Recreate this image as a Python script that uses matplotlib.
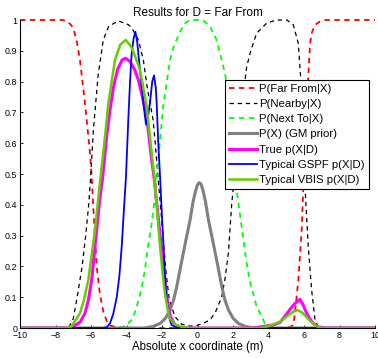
import matplotlib
matplotlib.use("Agg")
import matplotlib.pyplot as plt

plt.rcParams['font.family'] = ['Liberation Sans', 'DejaVu Sans']

# P(Far From|X)
far_x = [-10, -7.6, -7.3, -7.0, -6.8, -6.62, -6.34, -6.06, -5.96, -5.85, -5.68, -5.5, -5.31, -5.1, -4.9, -4.5, -4.0,
         5.0, 5.2, 5.4, 5.49, 5.68, 5.87, 5.96, 6.06, 6.24, 6.34, 6.45, 6.62, 6.9, 7.2, 10]
far_y = [1, 1, 0.995, 0.975, 0.93, 0.87, 0.73, 0.57, 0.49, 0.37, 0.2, 0.11, 0.055, 0.02, 0.008, 0.001, 0,
         0, 0.003, 0.01, 0.048, 0.156, 0.318, 0.454, 0.6, 0.816, 0.924, 0.96, 0.984, 0.995, 1, 1]

# P(Nearby|X)
near_x = [-10, -7.6, -7.25, -7.0, -6.78, -6.5, -6.3, -6.13, -6.02, -5.87, -5.6, -5.31, -5.0, -4.45, -3.9, -3.71,
          -3.33, -3.05, -2.83, -2.64, -2.5, -2.38, -2.24, -2.08, -1.93, -1.77, -1.59, -1.27, -0.89, -0.4, -0.05,
          0.3, 0.7, 1.0, 1.36, 1.55, 1.74, 1.93, 2.1, 2.4, 2.68, 2.77, 3.0, 3.33, 3.9, 4.46, 5.03, 5.4, 5.68, 5.81,
          5.95, 6.06, 6.24, 6.43, 6.62, 6.8, 7.0, 10]
near_y = [0, 0, 0.003, 0.03, 0.1, 0.2, 0.3, 0.4, 0.49, 0.64, 0.82, 0.935, 0.98, 0.997, 0.985, 0.975,
          0.935, 0.87, 0.78, 0.72, 0.675, 0.6, 0.5, 0.394, 0.286, 0.178, 0.091, 0.037, 0.012, 0.006, 0.008,
          0.015, 0.026, 0.05, 0.1, 0.16, 0.243, 0.405, 0.5, 0.66, 0.805, 0.848, 0.9, 0.957, 0.99, 1.0, 1.0, 0.984, 0.924, 0.816,
          0.6, 0.454, 0.264, 0.123, 0.026, 0.004, 0, 0]

# P(Next To|X)
next_x = [-10, -4.6, -4.2, -3.9, -3.65, -3.42, -3.14, -2.96, -2.77, -2.58, -2.39, -2.21, -1.93, -1.55, -1.36, -1.0,
          -0.7, -0.42, 0.3, 0.7, 1.08, 1.45, 1.64, 1.9, 2.2, 2.39, 2.77, 3.0, 3.33, 3.8, 4.2, 4.6, 10]
next_y = [0, 0, 0.004, 0.015, 0.03, 0.07, 0.13, 0.19, 0.27, 0.34, 0.43, 0.55, 0.72, 0.87, 0.91, 0.96,
          0.99, 1.0, 1.0, 0.98, 0.935, 0.85, 0.8, 0.64, 0.45, 0.37, 0.21, 0.14, 0.07, 0.015, 0.002, 0, 0]

# P(X) (GM prior)
prior_x = [-10, -3.0, -2.5, -2.1, -1.8, -1.55, -1.35, -1.17, -1.0, -0.8, -0.6, -0.42, -0.25, -0.1, 0.0, 0.1,
           0.2, 0.3, 0.45, 0.62, 0.8, 1.0, 1.2, 1.37, 1.55, 1.75, 2.0, 2.3, 2.7, 3.2, 10]
prior_y = [0, 0, 0.005, 0.015, 0.032, 0.058, 0.09, 0.134, 0.185, 0.243, 0.30, 0.35, 0.41, 0.447, 0.465, 0.472,
           0.467, 0.449, 0.41, 0.35, 0.30, 0.243, 0.185, 0.134, 0.09, 0.058, 0.032, 0.015, 0.005, 0, 0]

# True p(X|D)
true_x = [-10, -7.5, -7.0, -6.6, -6.34, -6.15, -5.96, -5.68, -5.5, -5.34, -5.12, -4.95, -4.74, -4.5, -4.25, -4.05,
          -3.8, -3.55, -3.33, -3.1, -2.86, -2.58, -2.45, -2.25, -2.08, -1.9, -1.75, -1.55, -1.27, -1.0, -0.5,
          3.0, 3.5, 4.27, 4.65, 5.02, 5.2, 5.5, 5.77, 5.95, 6.15, 6.35, 6.52, 6.8, 7.2, 10]
true_y = [0, 0, 0.004, 0.02, 0.048, 0.09, 0.156, 0.32, 0.42, 0.49, 0.62, 0.7, 0.78, 0.84, 0.87, 0.876,
          0.865, 0.84, 0.805, 0.75, 0.686, 0.545, 0.49, 0.38, 0.286, 0.19, 0.11, 0.04, 0.01, 0.002, 0,
          0, 0.003, 0.01, 0.018, 0.045, 0.06, 0.08, 0.093, 0.075, 0.048, 0.028, 0.015, 0.004, 0, 0]

# Typical GSPF p(X|D)
gspf_x = [-10, -5.3, -5.1, -4.93, -4.75, -4.55, -4.4, -4.27, -4.15, -4.03, -3.9, -3.8, -3.71, -3.6, -3.5, -3.4,
          -3.24, -3.05, -2.9, -2.78, -2.68, -2.55, -2.45, -2.35, -2.3, -2.21, -2.1, -2.0, -1.93, -1.83, -1.74,
          -1.6, -1.46, -1.2, -0.9, 10]
gspf_y = [0, 0, 0.003, 0.015, 0.045, 0.1, 0.17, 0.264, 0.38, 0.49, 0.675, 0.8, 0.89, 0.94, 0.962, 0.93,
          0.838, 0.73, 0.66, 0.69, 0.73, 0.8, 0.82, 0.78, 0.73, 0.6, 0.48, 0.36, 0.286, 0.17, 0.09,
          0.035, 0.01, 0.002, 0, 0]

# Typical VBIS p(X|D)
vbis_x = [-10, -7.5, -7.1, -6.62, -6.4, -6.15, -5.77, -5.5, -5.31, -5.02, -4.65, -4.35, -4.05, -3.75, -3.5, -3.24,
          -2.86, -2.58, -2.45, -2.3, -2.11, -1.95, -1.83, -1.6, -1.3, -0.9, -0.5, 3.5, 4.0, 4.65, 5.2, 5.45, 5.65,
          5.9, 6.15, 6.34, 6.7, 7.0, 10]
vbis_y = [0, 0, 0.005, 0.048, 0.09, 0.156, 0.32, 0.47, 0.567, 0.73, 0.87, 0.92, 0.935, 0.915, 0.88, 0.838,
          0.72, 0.567, 0.5, 0.4, 0.264, 0.17, 0.11, 0.035, 0.012, 0.004, 0, 0, 0.006, 0.02, 0.045, 0.055, 0.058,
          0.05, 0.035, 0.024, 0.006, 0, 0]

fig = plt.figure(figsize=(3.78, 3.58), dpi=100)
ax = fig.add_axes([20/378, 30/358, 355/378, 308/358])

ax.plot(far_x, far_y, '--', color='#ff0000', lw=1.3, dashes=(3, 2.5), label='P(Far From|X)', clip_on=False)
ax.plot(near_x, near_y, '--', color='k', lw=0.9, dashes=(3.5, 3), label='P(Nearby|X)', clip_on=False)
ax.plot(next_x, next_y, '--', color='#00ff00', lw=1.3, dashes=(3, 2.5), label='P(Next To|X)', clip_on=False)
ax.plot(prior_x, prior_y, '-', color='#808080', lw=2.2, label='P(X) (GM prior)')
ax.plot(true_x, true_y, '-', color='#ff00ff', lw=2.2, label='True p(X|D)')
ax.plot(gspf_x, gspf_y, '-', color='#0000ff', lw=1.3, label='Typical GSPF p(X|D)')
ax.plot(vbis_x, vbis_y, '-', color='#66cc00', lw=1.8, label='Typical VBIS p(X|D)')

ax.set_xlim(-10, 10)
ax.set_ylim(0, 1)
ax.set_xticks(range(-10, 11, 2))
ax.set_yticks([i / 10 for i in range(11)])
ax.set_yticklabels(['0', '0.1', '0.2', '0.3', '0.4', '0.5', '0.6', '0.7', '0.8', '0.9', '1'])
ax.tick_params(direction='in', length=2.5, width=0.6, labelsize=6.4, pad=2)
ax.spines['top'].set_visible(False)
ax.spines['right'].set_visible(False)
ax.spines['left'].set_linewidth(0.8)
ax.spines['bottom'].set_linewidth(0.8)

ax.set_title('Results for D = Far From', fontsize=8.5, pad=3)
ax.set_xlabel('Absolute x coordinate (m)', fontsize=8.3, labelpad=1)

leg = ax.legend(loc='upper right', bbox_to_anchor=(0.983, 0.805), fontsize=8.2, fancybox=False,
                framealpha=1, edgecolor='k', handlelength=2.5, labelspacing=0.45, borderpad=0.35,
                handletextpad=0.2, borderaxespad=0)
leg.get_frame().set_linewidth(0.8)

fig.savefig('out.png', dpi=100)
